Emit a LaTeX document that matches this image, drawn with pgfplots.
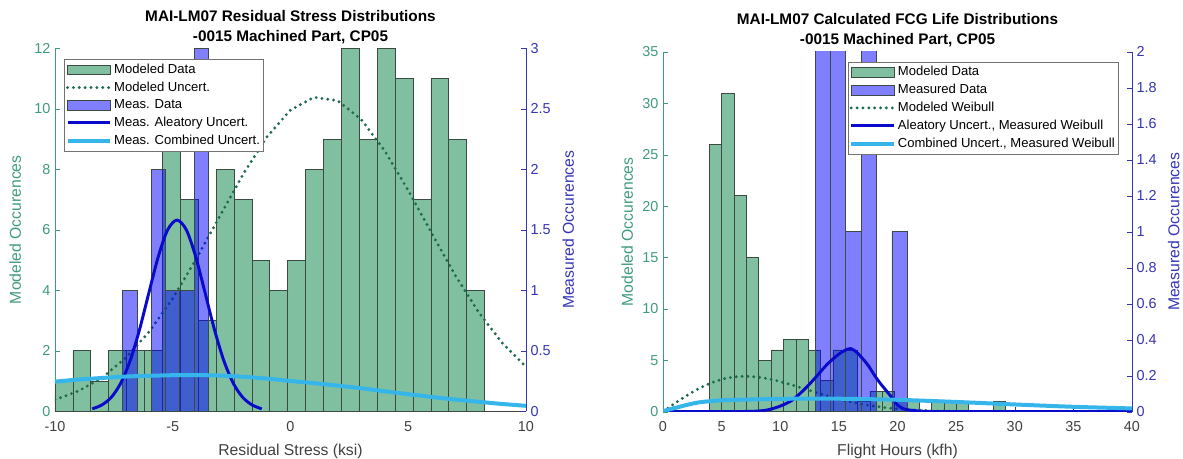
\documentclass[border=0pt]{standalone}
\usepackage{fontspec}
\setmainfont{Liberation Sans}
\usepackage{pgfplots}
\pgfplotsset{compat=1.18}

\definecolor{grFill}{HTML}{80C0A0}
\definecolor{grEdge}{HTML}{3C4A42}
\definecolor{grDot}{HTML}{1F6B4C}
\definecolor{leftCol}{HTML}{409A7C}
\definecolor{rightCol}{HTML}{3535B5}
\definecolor{aleaCol}{HTML}{0A0ACC}
\definecolor{combCol}{HTML}{35B5EA}
\definecolor{axGray}{HTML}{404040}

\pgfplotsset{
  patchleg/.style={legend image code/.code={\draw[##1] (0pt,-3.6pt) rectangle (32pt,3.6pt);}},
  lineleg/.style={legend image code/.code={\draw[##1] (0pt,0pt) -- (32pt,0pt);}},
  greenbars/.style={ybar interval, fill=grFill, draw=grEdge, line width=0.5pt},
  bluebars/.style={ybar interval, fill=blue, fill opacity=0.5, draw=grEdge, line width=0.5pt},
  dotline/.style={grDot, line width=2.4pt, line cap=round, dash pattern=on 0pt off 4.4pt},
  alealine/.style={aleaCol, line width=2.2pt},
  combline/.style={combCol, line width=3pt},
  base/.style={scale only axis, tick align=inside, major tick length=3.5pt,
    /pgf/number format/assume math mode=true,
    tick label style={font=\fontsize{10.8}{12}\selectfont},
    label style={font=\fontsize{11.8}{13}\selectfont}},
  leftax/.style={base, axis x line*=bottom, axis y line*=left,
    x axis line style={axGray}, xtick style={axGray},
    xticklabel style={text=axGray, yshift=-4pt}, xlabel style={text=axGray, yshift=-2.5pt},
    y axis line style={leftCol}, ytick style={leftCol},
    yticklabel style={text=leftCol}, ylabel style={text=leftCol},
    title style={font=\bfseries\fontsize{11.5}{15}\selectfont, align=center, yshift=-6pt}},
  rightax/.style={base, axis x line=none, axis y line*=right,
    y axis line style={rightCol}, ytick style={rightCol},
    yticklabel style={text=rightCol}, ylabel style={text=rightCol},
    legend style={font=\fontsize{9.8}{11}\selectfont, draw=black!55, fill=white,
      cells={anchor=west}, inner xsep=1pt, inner ysep=1pt,
      nodes={inner xsep=1.5pt, inner ysep=2.4pt}}},
}

\begin{document}
\begin{tikzpicture}
\useasboundingbox (0,0) rectangle (887.25pt,344.25pt);

% ---------- left: residual stress ----------
\begin{axis}[leftax, at={(41.25pt,35.8pt)}, anchor=south west,
  width=353.25pt, height=272.25pt,
  xmin=-10, xmax=10, ymin=0, ymax=12,
  xtick={-10,-5,0,5,10}, ytick={0,2,...,12},
  xlabel={Residual Stress (ksi)}, ylabel={Modeled Occurences},
  ylabel style={yshift=3pt},
  title={MAI-LM07 Residual Stress Distributions\\-0015 Machined Part, CP05}]
\addplot[greenbars] coordinates {
  (-10,1) (-9.24,2) (-8.48,1) (-7.72,2) (-6.96,2) (-6.20,2) (-5.44,9) (-4.68,7)
  (-3.92,3) (-3.16,8) (-2.40,7) (-1.64,5) (-0.88,4) (-0.12,5) (0.64,8) (1.40,9)
  (2.16,12) (2.92,9) (3.68,12) (4.44,11) (5.20,7) (5.96,11) (6.72,9) (7.48,4) (8.24,0)};
\addplot[dotline] coordinates {
  (-10,0.38) (-9,0.67) (-8,1.11) (-7,1.76) (-6,2.63) (-5,3.73) (-4,5.04) (-3,6.45)
  (-2,7.85) (-1,9.07) (0,9.96) (1,10.38) (2,10.27) (3,9.65) (4,8.61) (5,7.30)
  (6,5.88) (7,4.49) (8,3.26) (9,2.25) (10,1.47)};
\end{axis}

\begin{axis}[rightax, at={(41.25pt,35.8pt)}, anchor=south west,
  width=353.25pt, height=272.25pt,
  xmin=-10, xmax=10, ymin=0, ymax=3,
  ytick={0,0.5,...,3},
  ylabel={Measured Occurences}, ylabel style={yshift=-2pt},
  legend style={at={(0.019,0.97)}, anchor=north west}]
\addlegendimage{patchleg, fill=grFill, draw=grEdge}
\addlegendimage{lineleg, dotline}
\addlegendimage{patchleg, fill=blue, fill opacity=0.5, draw=grEdge}
\addlegendimage{lineleg, alealine}
\addlegendimage{lineleg, combline}
\addplot[bluebars, forget plot] coordinates {
  (-7.12,1) (-6.51,0) (-5.91,2) (-5.30,1) (-4.70,1) (-4.09,3) (-3.49,0)};
\addplot[alealine, smooth, forget plot] coordinates {
  (-8.42,0.020) (-8.02,0.051) (-7.62,0.113) (-7.22,0.228) (-6.82,0.412) (-6.42,0.668)
  (-6.02,0.974) (-5.62,1.274) (-5.22,1.498) (-4.82,1.58) (-4.42,1.498) (-4.02,1.274)
  (-3.62,0.974) (-3.22,0.668) (-2.82,0.412) (-2.42,0.228) (-2.02,0.113) (-1.62,0.051) (-1.22,0.020)};
\addplot[combline, smooth, forget plot] coordinates {
  (-10,0.245) (-9,0.262) (-8,0.275) (-7,0.287) (-6,0.293) (-5,0.298) (-4,0.299) (-3,0.295)
  (-2,0.285) (-1,0.27) (0,0.25) (1,0.232) (2,0.212) (3,0.19) (4,0.165) (5,0.141)
  (6,0.118) (7,0.097) (8,0.078) (9,0.06) (10,0.045)};
\legend{Modeled Data, Modeled Uncert., Meas. Data, Meas. Aleatory Uncert., Meas. Combined Uncert.}
\end{axis}

% ---------- right: FCG life ----------
\begin{axis}[leftax, at={(497.25pt,35.5pt)}, anchor=south west,
  width=351.75pt, height=269.8pt,
  xmin=0, xmax=40, ymin=0, ymax=35,
  xtick={0,5,...,40}, ytick={0,5,...,35},
  xlabel={Flight Hours (kfh)}, ylabel={Modeled Occurences},
  title={MAI-LM07 Calculated FCG Life Distributions\\-0015 Machined Part, CP05}]
\addplot[greenbars] coordinates {
  (3.960,26) (5.013,31) (6.066,21) (7.119,15) (8.172,5) (9.225,6) (10.278,7) (11.331,7)
  (12.384,6) (13.437,3) (14.490,6) (15.543,6) (16.596,1) (17.649,2) (18.702,2) (19.755,1)
  (20.808,1) (21.861,0) (22.914,1) (23.967,1) (25.020,1) (26.073,0) (27.126,0) (28.179,1) (29.232,0)};
\addplot[dotline] coordinates {
  (0,0) (1,0.80) (2,1.56) (3,2.22) (4,2.76) (5,3.15) (6,3.38) (7,3.45) (8,3.38) (9,3.20)
  (10,2.93) (11,2.60) (12,2.24) (13,1.88) (14,1.54) (15,1.23) (16,0.95) (17,0.72) (18,0.54)
  (19,0.39) (20,0.27) (21,0.19) (22,0.13) (24,0.05) (26,0.02) (30,0)};
\end{axis}

\begin{axis}[rightax, at={(497.25pt,35.5pt)}, anchor=south west,
  width=351.75pt, height=269.8pt,
  xmin=0, xmax=40, ymin=0, ymax=2,
  ytick={0,0.2,...,2},
  ylabel={Measured Occurences}, ylabel style={yshift=-1.5pt},
  legend style={at={(0.971,0.973)}, anchor=north east}]
\addlegendimage{patchleg, fill=grFill, draw=grEdge}
\addlegendimage{patchleg, fill=blue, fill opacity=0.5, draw=grEdge}
\addlegendimage{lineleg, dotline}
\addlegendimage{lineleg, alealine}
\addlegendimage{lineleg, combline}
\addplot[bluebars, forget plot] coordinates {
  (12.97,3) (14.28,3) (15.59,1) (16.90,3) (18.21,0) (19.52,1) (20.83,0)};
\addplot[alealine, smooth, forget plot] coordinates {
  (0,0) (6,0.0005) (8,0.003) (9,0.011) (10,0.031) (11,0.063) (12,0.12) (13,0.189) (14,0.263)
  (15,0.32) (15.5,0.34) (16,0.351) (16.5,0.331) (17,0.297) (17.5,0.257) (18,0.206) (18.5,0.16)
  (19,0.12) (19.5,0.08) (20,0.037) (20.5,0.017) (21,0.009) (22,0.003) (23,0.001) (24,0) (40,0)};
\addplot[combline, smooth, forget plot] coordinates {
  (0,0.003) (1,0.02) (2,0.037) (3,0.051) (4,0.058) (5,0.063) (7,0.067) (10,0.071) (13,0.073)
  (16,0.071) (20,0.066) (25,0.054) (30,0.04) (35,0.027) (40,0.018)};
\legend{Modeled Data, Measured Data, Modeled Weibull, {Aleatory Uncert., Measured Weibull}, {Combined Uncert., Measured Weibull}}
\end{axis}
\end{tikzpicture}
\end{document}
